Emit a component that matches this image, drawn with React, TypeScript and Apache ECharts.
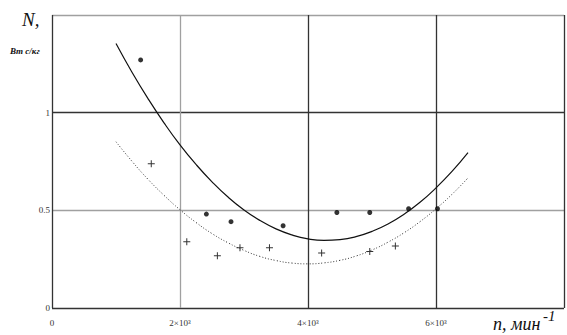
import React, { useEffect, useRef } from "react";
import * as echarts from "echarts";

const curveX = [1000, 1250, 1500, 1750, 2000, 2250, 2500, 2750, 3000, 3250, 3500, 3750, 4000, 4250, 4500, 4750, 5000, 5250, 5500, 5750, 6000, 6250, 6500];
const solidCurve = [1.354, 1.207, 1.072, 0.948, 0.835, 0.735, 0.646, 0.568, 0.502, 0.448, 0.405, 0.374, 0.354, 0.346, 0.35, 0.365, 0.392, 0.43, 0.48, 0.541, 0.615, 0.699, 0.795];
const dottedCurve = [0.851, 0.751, 0.659, 0.577, 0.503, 0.438, 0.381, 0.334, 0.295, 0.264, 0.243, 0.23, 0.226, 0.231, 0.244, 0.266, 0.297, 0.337, 0.385, 0.442, 0.508, 0.582, 0.666];

const dotX = [1385, 2412, 2797, 3611, 4451, 4965, 5572, 6023];
const dotY = [1.27, 0.481, 0.442, 0.421, 0.489, 0.489, 0.508, 0.508];

const crossX = [1551, 2106, 2584, 2937, 3398, 4213, 4965, 5365];
const crossY = [0.738, 0.339, 0.267, 0.308, 0.308, 0.281, 0.289, 0.318];

const xTickLabels: Record<number, string> = { 0: "0", 2000: "2×10³", 4000: "4×10³", 6000: "6×10³" };
const yTickLabels: Record<number, string> = { 0: "0", 0.5: "0.5", 1: "1" };

const DARK = "#333";
const GRAY = "#a0a0a0";
const FONT = "Liberation Serif";

export default function App() {
  const ref = useRef<HTMLDivElement>(null);
  useEffect(() => {
    if (!ref.current) return;
    const chart = echarts.init(ref.current, null, { renderer: "svg" });
    const zip = (xs: number[], ys: number[]) => xs.map((x, i) => [x, ys[i]]);
    const txt = (text: string, left: number, top: number, size: number, bold = false) => ({
      type: "text",
      left,
      top,
      style: {
        text,
        fontFamily: FONT,
        fontStyle: "italic",
        fontWeight: bold ? "bold" : "normal",
        fontSize: size,
        fill: "#111",
      },
    });
    chart.setOption({
      animation: false,
      backgroundColor: "#fff",
      grid: { left: 52, top: 15, right: 1, bottom: 27, containLabel: false },
      xAxis: {
        type: "value",
        min: 0,
        max: 8000,
        interval: 2000,
        axisLine: { show: false },
        axisTick: { show: false },
        axisLabel: {
          margin: 10,
          fontSize: 9,
          color: DARK,
          fontFamily: FONT,
          formatter: (v: number) => xTickLabels[v] ?? "",
        },
        splitLine: {
          show: true,
          lineStyle: { color: [DARK, GRAY, DARK, DARK, DARK], width: 1.3 },
        },
      },
      yAxis: {
        type: "value",
        min: 0,
        max: 1.5,
        interval: 0.5,
        axisLine: { show: false },
        axisTick: { show: false },
        axisLabel: {
          margin: 2,
          fontSize: 9,
          color: DARK,
          fontFamily: FONT,
          formatter: (v: number) => yTickLabels[v] ?? "",
        },
        splitLine: {
          show: true,
          lineStyle: { color: [DARK, GRAY, DARK, GRAY], width: 1.3 },
        },
      },
      series: [
        {
          type: "line",
          data: zip(curveX, solidCurve),
          smooth: true,
          showSymbol: false,
          lineStyle: { color: "#111", width: 1.2 },
        },
        {
          type: "line",
          data: zip(curveX, dottedCurve),
          smooth: true,
          showSymbol: false,
          lineStyle: { color: "#333", width: 1, type: [1, 2] },
        },
        {
          type: "scatter",
          data: zip(dotX, dotY),
          symbol: "circle",
          symbolSize: 5,
          itemStyle: { color: "#000" },
        },
        {
          type: "scatter",
          data: zip(crossX, crossY),
          symbol: "path://M3,0h1v3h3v1h-3v3h-1v-3h-3v-1h3z",
          symbolSize: 7,
          itemStyle: { color: "#000" },
        },
      ],
      graphic: [
        txt("N,", 22, 10, 19),
        txt("Вт с/кг", 10, 46, 9, true),
        txt("n, мин", 493, 315, 18),
        txt("-1", 543, 308, 15),
      ],
    });
    return () => chart.dispose();
  }, []);
  return <div ref={ref} style={{ width: 567, height: 335, position: "absolute", left: 0, top: 0 }} />;
}
